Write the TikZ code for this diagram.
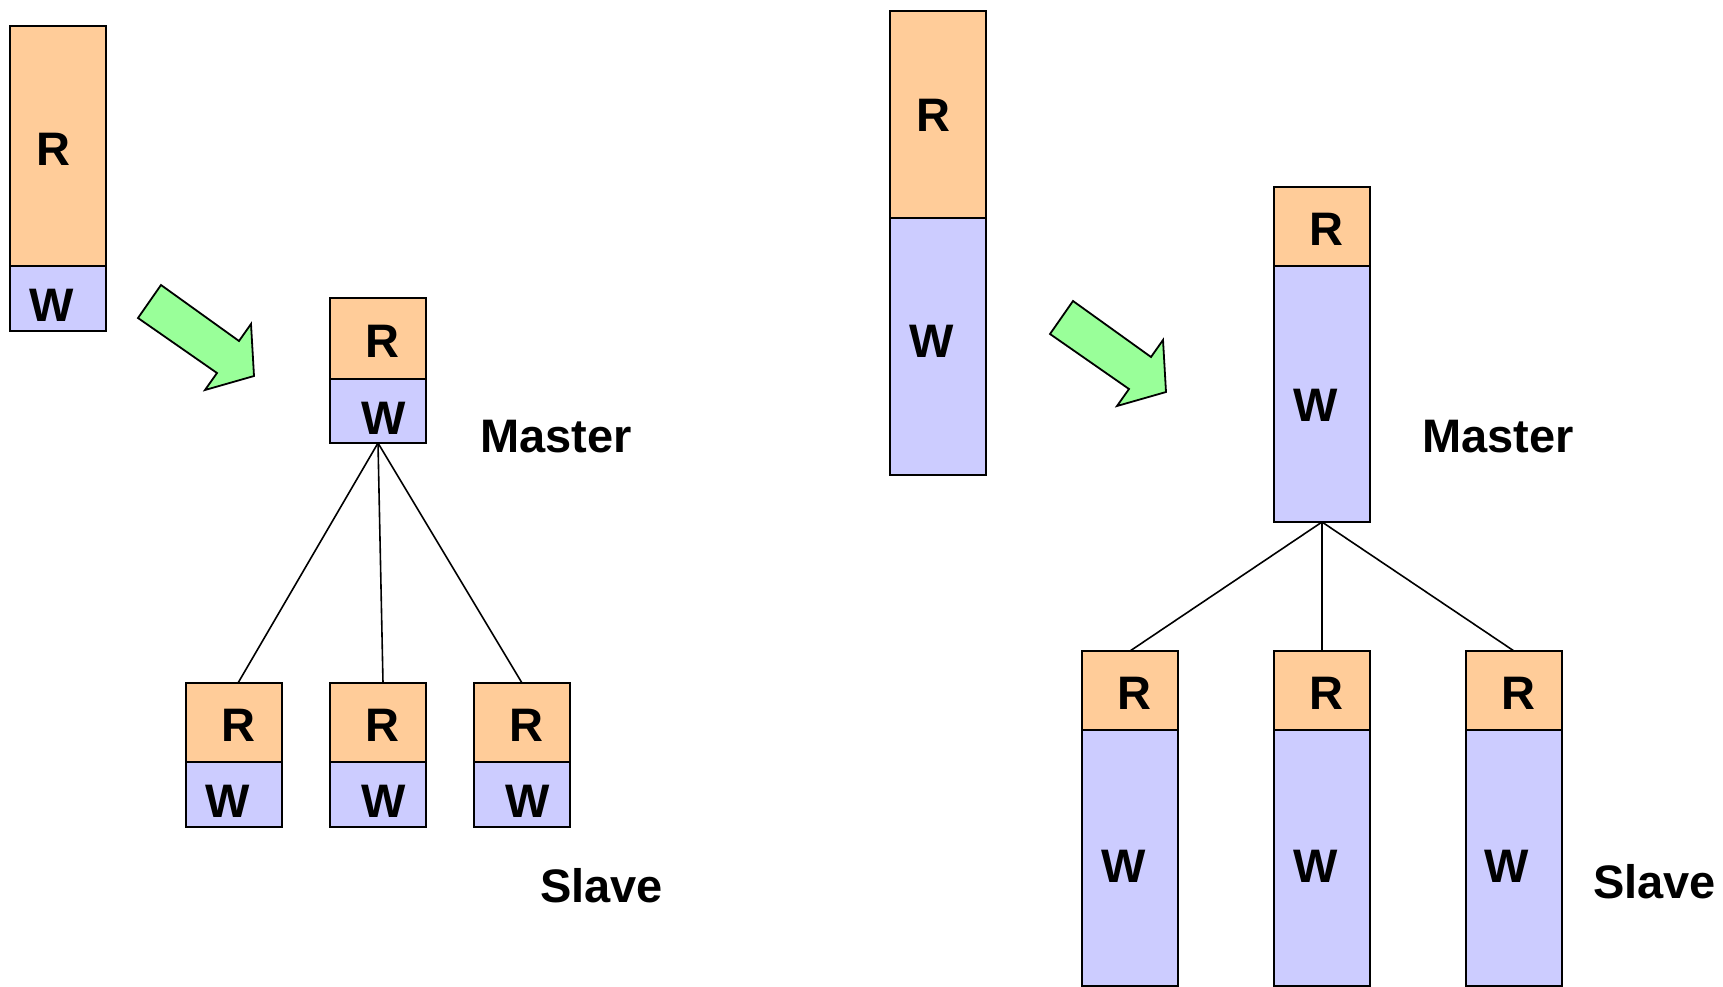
\documentclass[tikz,border=0pt]{standalone}
\usepackage{fontspec}
\setmainfont{Liberation Sans}
\usepackage{xcolor}
\usetikzlibrary{positioning}
\definecolor{readcol}{RGB}{255,204,153}
\definecolor{writecol}{RGB}{204,204,255}
\definecolor{movecol}{RGB}{153,255,153}
\newcommand*{\BigFont}{\fontsize{47}{51}\selectfont\bfseries}
\newcommand*{\MoveArrow}[1]{\draw[movearrow] (#1) -- ++(78,56) -- ++(12,-17) -- ++(3,52) -- ++(-49,14) -- ++(12,-17) -- ++(-79,-55) -- cycle;}
\tikzset{
  rpart/.style={draw, fill=readcol, line width=2pt, minimum width=96pt,
    inner sep=0pt, outer sep=0pt, font=\BigFont, text depth=0pt, text height=38.5pt},
  wpart/.style={rpart, fill=writecol, text height=46.5pt},
  roletext/.style={anchor=base west, inner sep=0pt, font=\BigFont},
  link/.style={line width=1.6pt},
  movearrow/.style={fill=movecol, line width=1.8pt, line join=miter}
}

\begin{document}
\begin{tikzpicture}[x=1pt,y=-1pt]
\useasboundingbox (0,0) rectangle (1723,986);
\clip (0,0) rectangle (1723,986);

% Single database, few writes
\node[rpart, minimum height=240pt, anchor=north] (oneR) at (58,26) {R\hspace*{9pt}};
\node[wpart, minimum height=65pt, below=0pt of oneR] (oneW) {W\hspace*{12pt}};

\MoveArrow{161,285}

% Master
\node[rpart, minimum height=81pt, anchor=north] (mastR) at (378,298) {\hspace*{9pt}R};
\node[wpart, minimum height=64pt, below=0pt of mastR] (mastW) {\hspace*{12pt}W};
\node[roletext] (mastlbl) at (480,452) {Master};

% Slaves
\node[rpart, minimum height=79pt, anchor=north] (slaveaR) at (234,683) {\hspace*{9pt}R};
\node[rpart, minimum height=79pt, right=48pt of slaveaR] (slavebR) {\hspace*{9pt}R};
\node[rpart, minimum height=79pt, right=48pt of slavebR] (slavecR) {\hspace*{9pt}R};
\node[wpart, minimum height=65pt, below=0pt of slaveaR] (slaveaW) {W\hspace*{12pt}};
\node[wpart, minimum height=65pt, below=0pt of slavebR] (slavebW) {\hspace*{12pt}W};
\node[wpart, minimum height=65pt, below=0pt of slavecR] (slavecW) {\hspace*{12pt}W};
\node[roletext] (slavelbl) at (540,902) {Slave};

\draw[link] (mastW.south) -- ([xshift=4pt]slaveaR.north);
\draw[link] (mastW.south) -- ([xshift=5pt]slavebR.north);
\draw[link] (mastW.south) -- (slavecR.north);

% Single database, many writes
\node[rpart, minimum height=207pt, anchor=north, text height=33.5pt] (twoR) at (938,11) {R\hspace*{10pt}};
\node[wpart, minimum height=257pt, below=0pt of twoR, text height=33.5pt, text depth=11pt] (twoW) {W\hspace*{12pt}};

\MoveArrow{1073,301}

% Master
\node[rpart, minimum height=79pt, anchor=north] (bigmastR) at (1322,187) {\hspace*{9pt}R};
\node[wpart, minimum height=256pt, below=0pt of bigmastR, text height=55.5pt] (bigmastW) {W\hspace*{12pt}};
\node[roletext] (bigmastlbl) at (1422,452) {Master};

% Slaves
\node[rpart, minimum height=79pt, anchor=north] (bigslaveaR) at (1130,651) {\hspace*{8pt}R};
\node[rpart, minimum height=79pt, right=96pt of bigslaveaR] (bigslavebR) {\hspace*{8pt}R};
\node[rpart, minimum height=79pt, right=96pt of bigslavebR] (bigslavecR) {\hspace*{8pt}R};
\node[wpart, minimum height=256pt, below=0pt of bigslaveaR, text height=49.5pt] (bigslaveaW) {W\hspace*{12pt}};
\node[wpart, minimum height=256pt, below=0pt of bigslavebR, text height=49.5pt] (bigslavebW) {W\hspace*{13pt}};
\node[wpart, minimum height=256pt, below=0pt of bigslavecR, text height=49.5pt] (bigslavecW) {W\hspace*{15pt}};
\node[roletext] (bigslavelbl) at (1593,898) {Slave};

\draw[link] (bigmastW.south) -- (bigslaveaR.north);
\draw[link] (bigmastW.south) -- (bigslavebR.north);
\draw[link] (bigmastW.south) -- (bigslavecR.north);

\end{tikzpicture}
\end{document}
